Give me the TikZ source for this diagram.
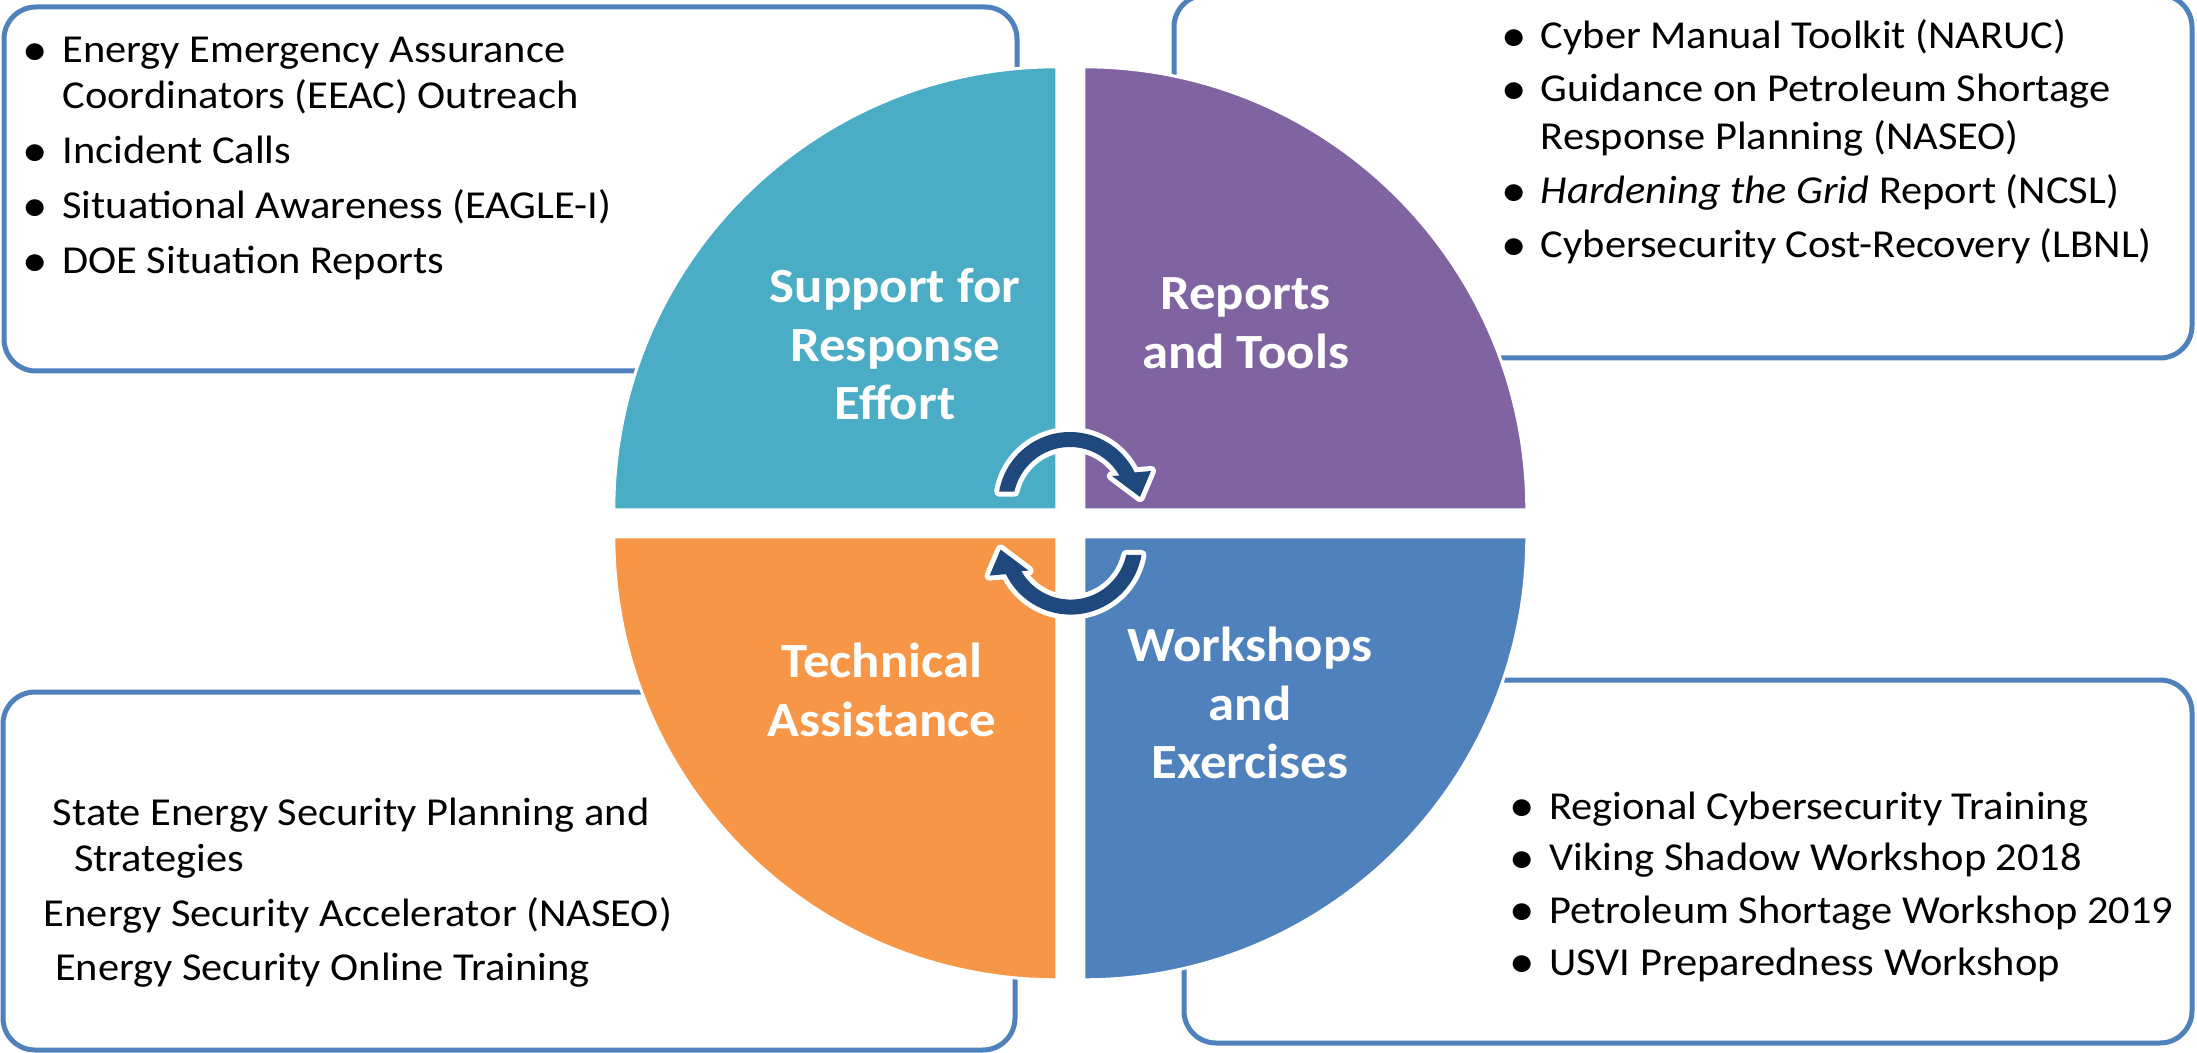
\documentclass[tikz,border=0pt]{standalone}
\usepackage{fontspec}
\setmainfont{Carlito}[FakeStretch=1.072]
\usetikzlibrary{calc}
\definecolor{qteal}{HTML}{4BACC6}
\definecolor{qpurple}{HTML}{8064A2}
\definecolor{qblue}{HTML}{4F81BD}
\definecolor{qorange}{HTML}{F79646}
\definecolor{arrowblue}{HTML}{1F497D}
\definecolor{boxblue}{HTML}{4F81BD}
\newcommand\bodyfont{\fontsize{19.8pt}{23.5pt}\selectfont}
\newcommand\lblfont{\fontsize{24.6pt}{29.25pt}\selectfont\bfseries}
\newcommand\mybul{\llap{\makebox[27pt][c]{\raisebox{-1.2pt}{\scalebox{1.2}{\textbullet}}}}}
\begin{document}
\begin{tikzpicture}[x=0.5pt,y=-0.5pt,
  body/.style={font=\bodyfont, inner sep=0pt, anchor=base west, text=black},
  lbl/.style={font=\lblfont, text=white, inner sep=0pt, anchor=base},
  infobox/.style={draw=boxblue, line width=2.5pt, rounded corners=16pt, fill=white},
  quad/.style={draw=white, line width=1.5pt},
  cyc/.style={fill=arrowblue, preaction={draw=white, line width=5pt, line join=round}}]

\useasboundingbox (0,0) rectangle (2197,1053);
\fill[white] (0,0) rectangle (2197,1053);

% information boxes
\draw[infobox] (4,7) rectangle (1017,371);
\draw[infobox] (1174,-5) rectangle (2192,358);
\draw[infobox] (3,692) rectangle (1015,1050);
\draw[infobox] (1184,680) rectangle (2192,1043);

% quadrants
\filldraw[quad, fill=qteal] (613.8,509.8) arc[start angle=180,end angle=270,radius=443] -- (1056.8,509.8) -- cycle;
\filldraw[quad, fill=qpurple] (1083.8,66.8) arc[start angle=270,end angle=360,radius=443] -- (1083.8,509.8) -- cycle;
\filldraw[quad, fill=qblue] (1526.8,536.8) arc[start angle=0,end angle=90,radius=443] -- (1083.8,536.8) -- cycle;
\filldraw[quad, fill=qorange] (1056.8,979.8) arc[start angle=90,end angle=180,radius=443] -- (1056.8,536.8) -- cycle;

% cycle arrows
\path[cyc] ([shift={(1070,504)}]189.8:72) arc[start angle=189.8,end angle=334,radius=72] -- (1151,471) -- (1140,497) -- (1112,476) -- ([shift={(1070,504)}]330:57) arc[start angle=330,end angle=192.5,radius=57] -- cycle;
\begin{scope}[rotate around={180:(1070.3,523.3)}]
\path[cyc] ([shift={(1070,504)}]189.8:72) arc[start angle=189.8,end angle=334,radius=72] -- (1151,471) -- (1140,497) -- (1112,476) -- ([shift={(1070,504)}]330:57) arc[start angle=330,end angle=192.5,radius=57] -- cycle;
\end{scope}

% quadrant labels
\node[lbl] (s1) at (895,303) {Support for};
\node[lbl] (s2) at (895,361.5) {Response};
\node[lbl] (s3) at (895,420) {Effort};
\node[lbl] (r1) at (1245.5,310) {Reports};
\node[lbl] (r2) at (1245.5,368.5) {and Tools};
\node[lbl] (t1) at (882,677.5) {Technical};
\node[lbl] (t2) at (882,736) {Assistance};
\node[lbl] (w1) at (1250,661.5) {Workshops};
\node[lbl] (w2) at (1250,720) {and};
\node[lbl] (w3) at (1250,778) {Exercises};

% top-left box
\node[body] (tl1a) at (62,63) {\mybul Energy Emergency Assurance};
\node[body] (tl1b) at (62,109) {Coordinators (EEAC) Outreach};
\node[body] (tl2) at (62,164) {\mybul Incident Calls};
\node[body] (tl3) at (62,219) {\mybul Situational Awareness (EAGLE-I)};
\node[body] (tl4) at (62,274) {\mybul DOE Situation Reports};

% top-right box
\node[body] (tr1) at (1540.5,49) {\mybul Cyber Manual Toolkit (NARUC)};
\node[body] (tr2a) at (1540.5,102) {\mybul Guidance on Petroleum Shortage};
\node[body] (tr2b) at (1540.5,150) {Response Planning (NASEO)};
\node[body] (tr3) at (1540.5,204) {\mybul \textit{Hardening the Grid} Report (NCSL)};
\node[body] (tr4) at (1540.5,258) {\mybul Cybersecurity Cost-Recovery (LBNL)};

% bottom-left box
\node[body] (bl1a) at (52.6,825) {State Energy Security Planning and};
\node[body] (bl1b) at (73.7,871.7) {Strategies};
\node[body] (bl2) at (43.5,926.7) {Energy Security Accelerator (NASEO)};
\node[body] (bl3) at (54.7,980.7) {Energy Security Online Training};

% bottom-right box
\node[body] (br1) at (1549,819.3) {\mybul Regional Cybersecurity Training};
\node[body] (br2) at (1549,870.7) {\mybul Viking Shadow Workshop 2018};
\node[body] (br3) at (1549,923.3) {\mybul Petroleum Shortage Workshop 2019};
\node[body] (br4) at (1549,975) {\mybul USVI Preparedness Workshop};
\end{tikzpicture}
\end{document}
